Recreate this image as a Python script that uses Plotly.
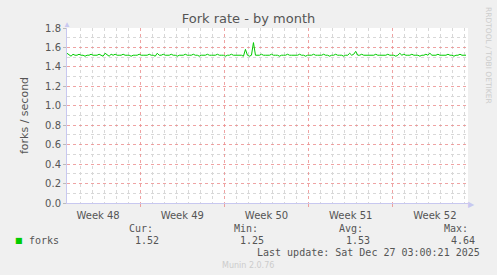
import plotly.graph_objects as go
import pandas as pd

# ---- data ----
start_time = "2025-11-24 22:00"
step_hours = 4
forks = [
    1.54, 1.52, 1.51, 1.53, 1.52, 1.52, 1.53, 1.52, 1.52, 1.51,
    1.52, 1.52, 1.53, 1.52, 1.52, 1.52, 1.53, 1.52, 1.51, 1.54,
    1.52, 1.51, 1.53, 1.52, 1.53, 1.52, 1.52, 1.52, 1.53, 1.52,
    1.52, 1.52, 1.51, 1.52, 1.52, 1.52, 1.53, 1.52, 1.52, 1.52,
    1.52, 1.53, 1.52, 1.52, 1.51, 1.54, 1.52, 1.52, 1.53, 1.52,
    1.52, 1.52, 1.53, 1.52, 1.52, 1.51, 1.52, 1.52, 1.52, 1.53,
    1.52, 1.52, 1.52, 1.53, 1.52, 1.52, 1.51, 1.52, 1.52, 1.52,
    1.53, 1.52, 1.52, 1.52, 1.52, 1.53, 1.52, 1.52, 1.52, 1.51,
    1.52, 1.52, 1.53, 1.52, 1.52, 1.52, 1.52, 1.52, 1.51, 1.58,
    1.52, 1.51, 1.52, 1.65, 1.52, 1.52, 1.52, 1.53, 1.52, 1.52,
    1.52, 1.52, 1.53, 1.52, 1.52, 1.52, 1.51, 1.52, 1.52, 1.52,
    1.53, 1.52, 1.52, 1.52, 1.52, 1.52, 1.53, 1.52, 1.52, 1.51,
    1.52, 1.52, 1.52, 1.53, 1.52, 1.52, 1.52, 1.52, 1.53, 1.52,
    1.52, 1.51, 1.52, 1.52, 1.53, 1.52, 1.52, 1.52, 1.51, 1.52,
    1.52, 1.54, 1.52, 1.53, 1.56, 1.52, 1.52, 1.53, 1.52, 1.52,
    1.52, 1.52, 1.52, 1.52, 1.53, 1.52, 1.52, 1.52, 1.52, 1.52,
    1.53, 1.52, 1.52, 1.52, 1.51, 1.52, 1.54, 1.52, 1.53, 1.52,
    1.52, 1.52, 1.53, 1.52, 1.52, 1.52, 1.51, 1.52, 1.52, 1.53,
    1.52, 1.54, 1.52, 1.52, 1.52, 1.53, 1.52, 1.52, 1.52, 1.52,
    1.53, 1.52, 1.52, 1.51, 1.52, 1.52, 1.53, 1.52, 1.52, 1.52,
]
times = pd.date_range(start=start_time, periods=len(forks), freq=f"{step_hours}h")

x_range = ["2025-11-24 22:00", "2025-12-28 06:00"]
week_start = "2025-11-24"
y_range = [0, 1.8]

series_name = "forks"
stat_labels = ["Cur:", "Min:", "Avg:", "Max:"]
stat_values = ["1.52", "1.25", "1.53", "4.64"]
last_update = "Last update: Sat Dec 27 03:00:21 2025"

# ---- figure ----
W, H = 497, 275
L, R, T, B = 67, 29, 28, 72
pw, ph = W - L - R, H - T - B

def px(x):
    return (x - L) / pw

def py(y):
    return (H - B - y) / ph

fig = go.Figure()
fig.add_trace(go.Scatter(
    x=times, y=forks, mode="lines",
    line=dict(color="#00CC00", width=1),
    hoverinfo="skip", showlegend=False,
))

major_grid = "rgba(235,140,140,0.8)"
minor_grid = "#D8D8D8"
axis_col = "#C8C8F0"
tick_font = dict(family="DejaVu Sans", size=10, color="#555555")

fig.update_layout(
    width=W, height=H,
    margin=dict(l=L, r=R, t=T, b=B),
    paper_bgcolor="#F0F0F0",
    plot_bgcolor="#FFFFFF",
    title=dict(text="Fork rate - by month", x=0.5, xanchor="center",
               y=1 - 18 / H, yanchor="middle",
               font=dict(family="DejaVu Sans", size=13, color="#555555")),
    xaxis=dict(
        type="date", range=x_range,
        tick0=week_start, dtick=7 * 86400000,
        ticklabelmode="period", tickformat="Week %V",
        showgrid=True, gridcolor=major_grid, griddash="dot", gridwidth=1,
        minor=dict(dtick=86400000, showgrid=True, gridcolor=minor_grid,
                   griddash="dot", gridwidth=1, ticks=""),
        ticks="outside", ticklen=3, tickcolor=major_grid,
        showline=True, linecolor=axis_col, linewidth=1,
        tickfont=tick_font, zeroline=False, fixedrange=True,
    ),
    yaxis=dict(
        range=y_range, dtick=0.2, tickformat=".1f",
        showgrid=True, gridcolor=major_grid, griddash="dot", gridwidth=1,
        minor=dict(dtick=0.1, showgrid=True, gridcolor=minor_grid,
                   griddash="dot", gridwidth=1, ticks=""),
        ticks="outside", ticklen=3, tickcolor="#BBBBBB",
        showline=True, linecolor=axis_col, linewidth=1,
        tickfont=tick_font, zeroline=False, fixedrange=True,
        title=dict(text="forks / second", standoff=14,
                   font=dict(family="DejaVu Sans", size=11, color="#555555")),
    ),
)

mono = dict(family="DejaVu Sans Mono", size=10, color="#555555")
ann = []
# axis arrows
ann.append(dict(xref="paper", yref="paper", x=px(67), y=py(24), text="▲",
                showarrow=False, font=dict(size=8, color=axis_col),
                xanchor="center", yanchor="middle"))
ann.append(dict(xref="paper", yref="paper", x=px(471), y=py(203), text="▶",
                showarrow=False, font=dict(size=8, color=axis_col),
                xanchor="center", yanchor="middle"))
# right side credit
ann.append(dict(xref="paper", yref="paper", x=px(488), y=py(55),
                text="RRDTOOL / TOBI OETIKER", textangle=90, showarrow=False,
                font=dict(family="DejaVu Sans", size=7.5, color="#CCCCCC"),
                xanchor="center", yanchor="middle"))
# legend
ann.append(dict(xref="paper", yref="paper", x=px(13), y=py(240), text="■",
                showarrow=False, font=dict(family="DejaVu Sans", size=8, color="#00CC00"),
                xanchor="left", yanchor="middle"))
ann.append(dict(xref="paper", yref="paper", x=px(27), y=py(240), text=series_name,
                showarrow=False, font=mono, xanchor="left", yanchor="middle"))
label_right = [155, 260, 365, 470]
value_right = [161, 266, 372, 477]
for lab, val, lx, vx in zip(stat_labels, stat_values, label_right, value_right):
    ann.append(dict(xref="paper", yref="paper", x=px(lx), y=py(228), text=lab,
                    showarrow=False, font=mono, xanchor="right", yanchor="middle"))
    ann.append(dict(xref="paper", yref="paper", x=px(vx), y=py(240), text=val,
                    showarrow=False, font=mono, xanchor="right", yanchor="middle"))
ann.append(dict(xref="paper", yref="paper", x=px(482), y=py(252), text=last_update,
                showarrow=False, font=mono, xanchor="right", yanchor="middle"))
ann.append(dict(xref="paper", yref="paper", x=px(248), y=py(265), text="Munin 2.0.76",
                showarrow=False, font=dict(family="DejaVu Sans", size=8, color="#CCCCCC"),
                xanchor="center", yanchor="middle"))
fig.update_layout(annotations=ann)

fig.write_html("out.html", config={"displayModeBar": False})
